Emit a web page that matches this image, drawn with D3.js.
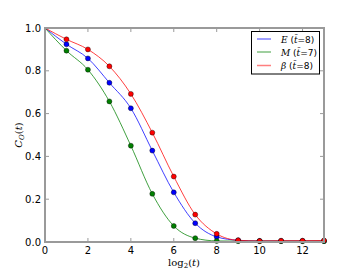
<!DOCTYPE html>
<html><head><meta charset="utf-8">
<script src="https://cdn.jsdelivr.net/npm/d3@7"></script>
<style>body{margin:0;background:#fff}svg{display:block}</style>
</head><body>
<script>
const xs = [0,1,2,3,4,5,6,7,8,9,10,11,12,13];
const seriesE = [1.0,0.924,0.858,0.744,0.625,0.427,0.232,0.088,0.024,0.008,0.005,0.005,0.005,0.005];
const seriesM = [1.0,0.894,0.805,0.657,0.450,0.225,0.075,0.018,0.005,0.004,0.004,0.004,0.004,0.004];
const seriesB = [1.0,0.947,0.900,0.821,0.692,0.511,0.306,0.128,0.038,0.008,0.005,0.006,0.006,0.007];
const xTicks = [0,2,4,6,8,10,12];
const yTicks = [0.0,0.2,0.4,0.6,0.8,1.0];
const legendNames = ["E","M","β"];
const legendT = ["8","7","8"];
const colors = ["#0000ff","#008000","#ff0000"];

const W=360,H=270;
const svg=d3.select("body").append("svg").attr("width",W).attr("height",H);
const x=d3.scaleLinear().domain([0,13]).range([45,324]);
const y=d3.scaleLinear().domain([0,1]).range([242,28]);
const axisCol="#9a9a9a";

const g=svg.append("g");
xTicks.forEach(t=>{
  g.append("line").attr("x1",x(t)).attr("x2",x(t)).attr("y1",y(0)).attr("y2",y(0)-4).attr("stroke",axisCol).attr("stroke-width",1);
  g.append("line").attr("x1",x(t)).attr("x2",x(t)).attr("y1",y(1)).attr("y2",y(1)+4).attr("stroke",axisCol).attr("stroke-width",1);
  g.append("text").attr("x",x(t)).attr("y",254).attr("text-anchor","middle").attr("font-family","DejaVu Sans").attr("font-size",10).text(t);
});
yTicks.forEach(t=>{
  g.append("line").attr("x1",x(0)).attr("x2",x(0)+4).attr("y1",y(t)).attr("y2",y(t)).attr("stroke",axisCol).attr("stroke-width",1);
  g.append("line").attr("x1",x(13)).attr("x2",x(13)-4).attr("y1",y(t)).attr("y2",y(t)).attr("stroke",axisCol).attr("stroke-width",1);
  g.append("text").attr("x",41).attr("y",y(t)+3.5).attr("text-anchor","end").attr("font-family","DejaVu Sans").attr("font-size",10).text(t.toFixed(1));
});

const line=d3.line().x((d,i)=>x(xs[i])).y(d=>y(d)).curve(d3.curveMonotoneX);
const all=[seriesE,seriesM,seriesB];
svg.append("clipPath").attr("id","c").append("rect").attr("x",45).attr("y",28).attr("width",279).attr("height",214);
const plot=svg.append("g").attr("clip-path","url(#c)");
all.forEach((s,k)=>{
  plot.append("path").attr("d",line(s)).attr("fill","none").attr("stroke",colors[k]).attr("stroke-width",1).attr("stroke-opacity",0.75);
});
all.forEach((s,k)=>{
  svg.append("g").selectAll("circle").data(s.slice(1)).join("circle")
    .attr("cx",(d,i)=>x(xs[i+1])).attr("cy",d=>y(d)).attr("r",2.5)
    .attr("fill",colors[k]).attr("stroke","#000").attr("stroke-width",0.4);
});

svg.append("rect").attr("x",45).attr("y",28).attr("width",279).attr("height",214)
  .attr("fill","none").attr("stroke",axisCol).attr("stroke-width",2);

svg.append("text").attr("x",184).attr("y",266).attr("text-anchor","middle")
  .attr("font-family","DejaVu Serif").attr("font-size",10)
  .html('log<tspan font-size="7" dy="2">2</tspan><tspan dy="-2">(</tspan><tspan font-style="italic">t</tspan>)');
svg.append("text").attr("transform","translate(22,135) rotate(-90)").attr("text-anchor","middle")
  .attr("font-family","DejaVu Serif").attr("font-size",10)
  .html('<tspan font-style="italic">C</tspan><tspan font-style="italic" font-size="7" dy="2">O</tspan><tspan dy="-2">(</tspan><tspan font-style="italic">t</tspan>)');

const lg=svg.append("g");
lg.append("rect").attr("x",251.5).attr("y",31.5).attr("width",68).attr("height",42.5).attr("fill","#fff").attr("stroke","#000").attr("stroke-width",1);
const ly=[39,52,65.5];
legendNames.forEach((n,i)=>{
  lg.append("line").attr("x1",257).attr("x2",271).attr("y1",ly[i]).attr("y2",ly[i]).attr("stroke",colors[i]).attr("stroke-opacity",0.5).attr("stroke-width",1.5);
  lg.append("text").attr("x",281).attr("y",ly[i]+3.5).attr("font-family","DejaVu Sans").attr("font-size",9)
    .html('<tspan font-family="DejaVu Serif" font-style="italic">'+n+'</tspan> (<tspan font-family="DejaVu Serif" font-style="italic">t\u0304</tspan>='+legendT[i]+')');
});
</script>
</body></html>
